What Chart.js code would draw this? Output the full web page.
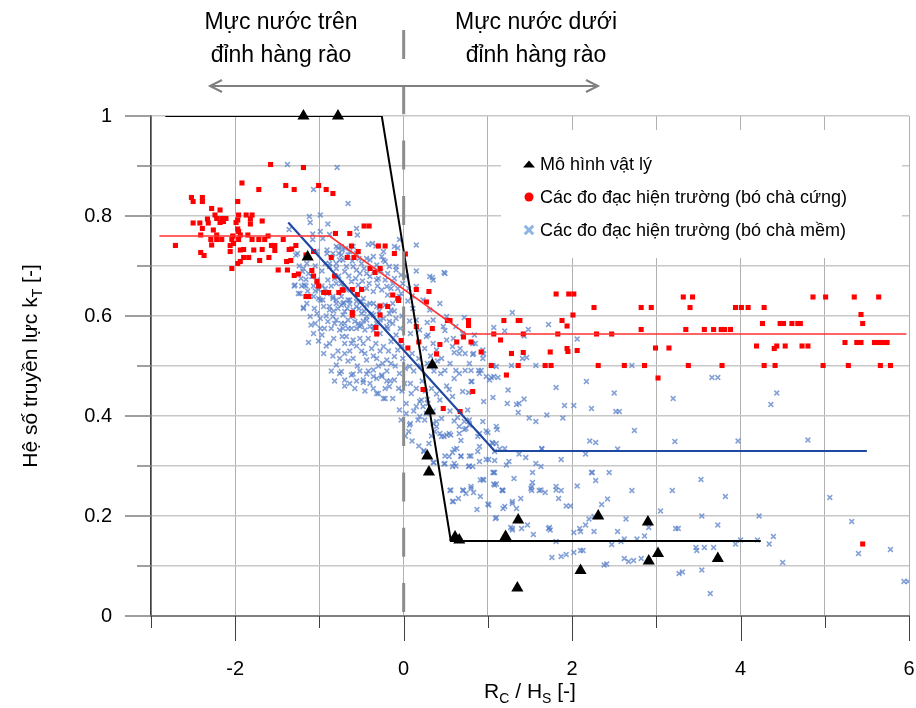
<!DOCTYPE html>
<html>
<head>
<meta charset="utf-8">
<script src="https://cdn.jsdelivr.net/npm/chart.js@4/dist/chart.umd.min.js"></script>
<style>
  html, body { margin: 0; padding: 0; background: #fff; }
  #wrap { width: 916px; height: 708px; }
</style>
</head>
<body>
<div id="wrap"><canvas id="kt" width="916" height="708"></canvas></div>
<script>
const FONT = '"Liberation Sans", Arial, sans-serif';

// axes
const xGridValues = [-3, -2, -1, 0, 1, 2, 3, 4, 5, 6];
const xTickLabels = [-2, 0, 2, 4, 6];
const yGridValues = [0, 0.1, 0.2, 0.3, 0.4, 0.5, 0.6, 0.7, 0.8, 0.9, 1];
const yTickLabels = [0, 0.2, 0.4, 0.6, 0.8, 1];

// fitted lines
const physModelLine = [[-2.83, 1], [-0.26, 1], [0.56, 0.15], [4.24, 0.15]];
const hardFitLine = [[-2.9, 0.76], [-0.88, 0.76], [0.74, 0.564], [5.97, 0.564]];
const softFitLine = [[-1.37, 0.787], [1.08, 0.33], [5.5, 0.33]];

// Mô hình vật lý
const physModel = [
  [-1.19, 1.0], [-0.78, 1.0], [-1.14, 0.718], [0.34, 0.502], [0.31, 0.41], [0.28, 0.32],
  [0.30, 0.288], [0.61, 0.158], [0.66, 0.152], [1.21, 0.159], [1.36, 0.192], [1.35, 0.056],
  [2.10, 0.091], [2.31, 0.20], [2.90, 0.188], [2.91, 0.11], [3.02, 0.125], [3.73, 0.115]
];

// bó chà cứng
const fieldHard = [
  [-1.58,0.903],[-1.19,0.897],[-1.92,0.866],[-1.40,0.861],[-1.72,0.853],[-1.30,0.853],[-1.01,0.861],[-0.92,0.853],
  [-0.84,0.845],[-2.52,0.837],[-2.50,0.829],[-2.39,0.837],[-2.39,0.829],[-1.97,0.829],[-2.28,0.815],[-2.18,0.812],
  [-2.24,0.802],[-1.96,0.802],[-1.87,0.802],[-1.80,0.802],[-2.22,0.795],[-2.16,0.795],[-2.11,0.795],[-1.82,0.794],
  [-1.97,0.792],[-1.68,0.79],[-2.50,0.786],[-2.42,0.786],[-2.33,0.794],[-2.32,0.786],[-2.18,0.787],[-2.14,0.789],
  [-1.99,0.787],[-1.82,0.784],[-2.39,0.775],[-2.26,0.772],[-1.97,0.774],[-1.96,0.769],[-2.41,0.762],[-2.22,0.762],
  [-2.03,0.76],[-1.94,0.762],[-1.85,0.762],[-1.61,0.76],[-2.29,0.753],[-2.22,0.753],[-2.16,0.753],[-2.04,0.753],
  [-1.96,0.753],[-1.80,0.753],[-1.72,0.753],[-1.65,0.753],[-1.43,0.753],[-2.71,0.741],[-2.28,0.742],[-2.06,0.741],
  [-2.02,0.745],[-1.57,0.741],[-1.53,0.741],[-1.28,0.741],[-1.33,0.734],[-2.41,0.727],[-2.06,0.729],[-1.94,0.732],
  [-1.90,0.733],[-1.78,0.732],[-1.68,0.733],[-1.53,0.731],[-1.36,0.733],[-2.37,0.721],[-1.90,0.717],[-1.84,0.717],
  [-1.71,0.711],[-1.60,0.717],[-1.39,0.709],[-2.04,0.695],[-1.97,0.705],[-1.94,0.709],[-1.49,0.692],[-1.38,0.692],
  [-1.30,0.681],[-1.25,0.684],[-1.09,0.691],[-0.81,0.765],[-1.07,0.729],[-0.86,0.717],
  [-1.07,0.68],[-1.03,0.669],[-1.01,0.66],[-0.95,0.647],[-0.89,0.647],[-1.16,0.639],[-1.13,0.639],[-0.77,0.647],
  [-0.72,0.652],[-0.82,0.68],[-0.67,0.717],
  [-0.47,0.78],[-0.41,0.78],[-0.64,0.765],[-0.62,0.74],[-0.30,0.74],[-0.22,0.74],[-0.54,0.729],[-1.16,0.722],
  [-0.11,0.725],[0.02,0.724],[-0.59,0.717],[-1.34,0.711],[-0.40,0.695],[-0.28,0.695],[-0.34,0.687],[0.15,0.653],
  [0.30,0.649],[-0.73,0.652],[-0.61,0.653],[-0.50,0.653],[-0.55,0.643],[-0.13,0.642],[-0.07,0.635],[-0.28,0.62],
  [-0.19,0.619],[0.27,0.628],[-0.61,0.607],[-0.61,0.602],[-0.28,0.602],[0.15,0.579],[0.34,0.575],[-0.33,0.577],
  [0.52,0.591],[-0.06,0.631],[0.55,0.591],[0.77,0.591],[0.77,0.581],[1.19,0.591],[1.36,0.591],[-0.32,0.564],
  [0.71,0.558],[0.63,0.548],[0.80,0.548],[1.07,0.564],[1.15,0.552],[-0.03,0.551],[0.43,0.543],[0.05,0.536],
  [0.18,0.548],[0.92,0.528],[1.28,0.525],[0.39,0.524],[1.04,0.501],[1.22,0.482],[0.23,0.453],[0.82,0.449],
  [0.47,0.415],[0.67,0.409],[1.38,0.591],[1.42,0.564],[1.42,0.527],[1.36,0.501],
  [1.81,0.644],[1.96,0.644],[2.02,0.644],[2.01,0.602],[1.88,0.591],[1.94,0.58],[1.83,0.564],[1.94,0.535],
  [1.95,0.529],[2.06,0.531],[1.74,0.528],[1.68,0.501],[1.75,0.501],[2.26,0.617],[2.29,0.564],[2.47,0.564],
  [2.31,0.501],[2.62,0.501],[2.82,0.617],[2.94,0.617],[2.82,0.573],[2.86,0.501],[2.99,0.536],[3.15,0.536],
  [3.02,0.476],[3.32,0.638],[3.43,0.638],[3.40,0.617],[3.35,0.573],[3.38,0.501],[3.57,0.573],[3.68,0.573],
  [3.77,0.573],[3.81,0.573],[3.88,0.573],[3.78,0.501],[3.94,0.617],[4.01,0.617],[4.09,0.617],[4.28,0.617],
  [4.26,0.585],[4.19,0.54],[4.40,0.535],[4.43,0.54],[4.53,0.54],[4.28,0.501],[4.41,0.501],[4.47,0.585],
  [4.51,0.585],[4.61,0.585],[4.68,0.585],[4.71,0.585],[4.73,0.54],[4.80,0.54],[4.86,0.638],[5.01,0.638],
  [4.98,0.501],[5.24,0.547],[5.35,0.638],[5.43,0.603],[5.45,0.585],[5.38,0.547],[5.43,0.547],[5.28,0.501],
  [5.64,0.638],[5.59,0.547],[5.63,0.547],[5.67,0.547],[5.71,0.547],[5.74,0.547],[5.66,0.501],[5.78,0.501],
  [5.45,0.144]
];

// bó chà mềm
const fieldSoft = [
  [-1.38,0.903],[-0.79,0.897],[-1.07,0.853],[-0.66,0.825],[-1.12,0.799],[-0.99,0.802],[-1.11,0.787],[-0.90,0.784],
  [-1.36,0.773],[-1.08,0.764],[-0.99,0.769],[-1.08,0.753],[-0.96,0.755],[-0.56,0.775],[-0.55,0.762],[-0.88,0.763],
  [-0.42,0.743],[-0.33,0.74],[-0.78,0.736],[-0.73,0.732],[-0.07,0.736],[-0.05,0.753],[-1.03,0.729],[-0.91,0.725],
  [-0.44,0.715],[-0.26,0.719],[-1.26,0.725],[-1.28,0.722],[0.15,0.69],[0.48,0.687],[0.34,0.677],[-1.19,0.695],
  [-1.20,0.689],[-1.09,0.679],[-1.03,0.672],[-1.07,0.66],[-1.30,0.66],[-1.21,0.66],[-1.16,0.66],[-1.25,0.645],
  [-1.19,0.617],[-1.10,0.582],
  [1.29,0.607],[0.28,0.587],[0.49,0.571],[0.29,0.562],[0.85,0.545],[0.95,0.524],[0.82,0.523],[0.73,0.525],
  [0.60,0.527],[0.67,0.535],[0.45,0.515],[0.18,0.515],[0.07,0.499],[0.98,0.479],[1.07,0.479],[0.89,0.491],
  [0.92,0.491],[0.73,0.491],[0.80,0.491],[0.62,0.491],[0.49,0.491],[1.24,0.452],[1.34,0.423],[1.23,0.425],
  [1.06,0.437],[0.95,0.429],[0.81,0.469],[0.70,0.449],[0.77,0.447],[0.51,0.46],[0.54,0.453],[0.58,0.439],
  [0.39,0.444],[0.43,0.432],[0.64,0.397],[0.72,0.389],[0.74,0.375],[0.66,0.365],[0.94,0.389],[1.37,0.425],
  [0.48,0.359],[0.37,0.369],[0.39,0.379],[0.08,0.385],[0.06,0.369],[0.23,0.419],[0.19,0.429],[0.28,0.433],
  [-0.71,0.627],[-0.64,0.624],[-0.56,0.619],[-0.50,0.629],[-0.44,0.622],[-0.36,0.625],[-0.38,0.605],[-0.72,0.602],
  [-0.74,0.585],[-0.66,0.575],[-0.54,0.585],[-0.46,0.572],[-0.36,0.579],[-0.28,0.565],[-0.19,0.575],[-0.09,0.562],
  [-0.73,0.559],[-0.60,0.552],[-0.48,0.545],[-0.38,0.535],[-0.24,0.539],[-0.15,0.549],[-0.07,0.532],[-0.70,0.525],
  [-0.60,0.515],[-0.44,0.512],[-0.32,0.515],[-0.20,0.512],[-0.11,0.519],[-0.01,0.515],[-0.74,0.489],[-0.62,0.482],
  [-0.48,0.472],[-0.36,0.492],[-0.26,0.479],[-0.17,0.459],[-0.11,0.472],[-0.05,0.485],[0.01,0.465],[-0.58,0.455],
  [-0.30,0.445],[-0.24,0.435],[-0.13,0.435],[0.03,0.425],[0.09,0.445],[0.15,0.455],[-0.05,0.412],[0.03,0.405],
  [0.15,0.419],[0.21,0.432],[0.07,0.382],[0.17,0.392],[0.29,0.425],
  [-1.19,0.615],[-1.13,0.547],[-1.07,0.565],[-0.97,0.562],[-0.88,0.545],[-0.80,0.502],[-0.76,0.485],[-0.70,0.472],
  [-0.60,0.484],[-0.48,0.467],[-0.44,0.484],[-0.36,0.479],[-0.26,0.482],[-0.22,0.455],[-0.32,0.445],[-0.22,0.435],
  [-0.03,0.392],[0.19,0.399],[0.25,0.392],[0.39,0.389],[0.43,0.365],[0.54,0.365],[0.66,0.379],[0.78,0.392],
  [0.90,0.365],[0.98,0.37],[1.10,0.379],
  [-1.29,0.662],[-1.23,0.645],[-1.07,0.639],[-0.99,0.632],[-0.88,0.619],[-0.80,0.632],[-0.72,0.625],[-0.84,0.599],
  [-0.66,0.592],[-0.60,0.599],[-0.76,0.572],[-0.68,0.559],[-0.52,0.579],[-0.44,0.592],[-0.36,0.572],[-0.28,0.592],
  [-0.20,0.579],[-0.17,0.605],[-0.13,0.625],[-0.05,0.639],[-0.20,0.659],[-0.32,0.672],[-0.44,0.685],[-0.56,0.692],
  [-0.68,0.699],[-0.76,0.712],[-0.84,0.725],[-0.91,0.732],[-0.36,0.719],[-0.24,0.712],[-0.09,0.699],[0.03,0.679],
  [0.15,0.659],[0.23,0.632],[0.31,0.612],[0.35,0.592],[0.15,0.592],[0.19,0.572],[0.27,0.559],[0.35,0.545],
  [0.39,0.532],[0.51,0.552],[0.58,0.539],[0.66,0.525],[0.78,0.505],[0.90,0.485],[1.02,0.472],[1.10,0.499],
  [0.94,0.532],[0.82,0.545],[0.70,0.565],[0.62,0.579],[0.47,0.579],[0.51,0.599],[0.43,0.625],[0.35,0.672],
  [0.31,0.679],[0.49,0.685],[0.15,0.742],[-0.11,0.739],[-0.24,0.729],[-0.37,0.745],[-0.74,0.739],[-0.60,0.739],
  [-1.18,0.662],[-1.16,0.673],[-1.11,0.639],[-1.01,0.635],[-0.96,0.632],[-0.84,0.639],[-0.80,0.625],[-0.74,0.622],
  [-0.66,0.632],[-0.68,0.652],[-0.74,0.665],[-0.82,0.675],[-0.88,0.699],[-0.80,0.705],[-0.72,0.712],[-0.66,0.722],
  [-0.80,0.739],[-0.74,0.722],[-0.64,0.729],[-0.56,0.725],[-0.50,0.705],[-0.40,0.712],[-0.32,0.702],[-0.22,0.709],
  [-0.17,0.699],[-0.09,0.692],[-0.03,0.682],[-0.88,0.705],[-0.80,0.695],[-0.70,0.689],[-0.60,0.699],[-0.52,0.685],
  [-0.40,0.679],[-0.30,0.675],[-0.22,0.672],[-0.13,0.665],[-0.07,0.655],[-0.90,0.672],[-0.80,0.665],[-0.72,0.659],
  [-0.62,0.669],[-0.54,0.662],[-0.44,0.655],[-0.36,0.649],[-0.26,0.652],[-0.19,0.642],[-0.91,0.645],[-0.84,0.635],
  [-0.74,0.639],[-0.64,0.632],[-0.56,0.629],[-0.48,0.635],[-0.40,0.625],[-0.32,0.619],[-0.22,0.622],[-0.15,0.612],
  [-0.95,0.619],[-0.88,0.612],[-0.78,0.615],[-0.70,0.609],[-0.60,0.612],[-0.50,0.605],[-0.44,0.599],[-0.36,0.602],
  [-0.24,0.595],[-0.17,0.589],[-0.09,0.595],[-0.99,0.595],[-0.90,0.589],[-0.80,0.592],[-0.70,0.585],[-0.58,0.589],
  [-0.50,0.582],[-0.40,0.579],[-0.99,0.575],[-0.86,0.575],[-0.72,0.575],[-0.56,0.575],[-1.03,0.605],[-1.11,0.599],
  [-1.01,0.653],
  [-0.84,0.52],[-0.78,0.53],[-0.66,0.51],[-0.55,0.50],[-0.50,0.53],[-0.42,0.49],[-0.30,0.50],[-0.20,0.49],
  [-0.92,0.54],[-0.62,0.545],[-0.52,0.555],[-0.28,0.53],[-0.10,0.50],[-0.86,0.49],[-0.70,0.46],[-0.46,0.45],
  [-0.40,0.465],[-0.56,0.47],[-0.36,0.455],[-0.16,0.47],[-0.06,0.455],
  [-1.24,0.70],[-1.15,0.705],[-1.05,0.70],[-0.97,0.69],[-1.13,0.685],[-0.93,0.705],[-0.85,0.715],[-0.77,0.725],
  [-0.69,0.735],[-0.61,0.71],[-0.53,0.715],[-0.47,0.695],[-0.35,0.69],[-0.27,0.69],[-0.19,0.685],[-0.11,0.675],
  [-0.01,0.665],[0.06,0.655],[0.10,0.64],[-1.22,0.675],[-1.14,0.65],[-1.05,0.65],[-0.97,0.66],[-0.93,0.655],
  [-0.86,0.66],[-0.77,0.68],[-0.65,0.68],[-0.57,0.675],[-0.49,0.67],[-0.41,0.665],[-0.31,0.66],[-0.15,0.655],
  [-0.03,0.645],[0.05,0.63],[0.11,0.615],[-1.15,0.625],[-1.06,0.615],[-0.92,0.60],[-0.83,0.61],[-0.67,0.615],
  [-0.53,0.615],[-0.47,0.61],[-0.29,0.61],[-0.11,0.61],[-0.02,0.60],[0.07,0.59],[-1.05,0.585],[-0.94,0.575],
  [-0.82,0.585],[-0.62,0.575],[-0.48,0.59],[-0.32,0.585],[-0.13,0.585],[-0.04,0.575],[0.08,0.565],[-1.01,0.55],
  [-0.83,0.555],[-0.70,0.545],[-0.56,0.54],[-0.42,0.555],[-0.33,0.545],[-0.18,0.53],[-0.02,0.54],[0.10,0.525],
  [-0.95,0.525],[-0.76,0.515],[-0.64,0.53],[-0.46,0.525],[-0.36,0.52],[-0.25,0.505],[-0.15,0.505],[0.02,0.495],
  [0.12,0.49],[-0.82,0.47],[-0.64,0.465],[-0.52,0.49],[-0.32,0.475],[-0.20,0.47],[-0.02,0.45],[0.08,0.465],
  [0.22,0.47],[0.26,0.45],[0.33,0.455],[0.20,0.50],[0.28,0.505],[0.36,0.49],[0.25,0.535],[0.32,0.52],
  [0.40,0.51],[0.44,0.485],[0.55,0.505],[0.60,0.475],[0.66,0.485],[0.12,0.41],[0.27,0.405],[0.35,0.41],
  [0.45,0.395],[0.55,0.41],[0.60,0.39],
  [0.35,0.385],[0.33,0.36],[0.45,0.359],[0.51,0.362],[0.56,0.362],[0.72,0.373],[0.78,0.382],[0.88,0.359],
  [1.00,0.367],[0.68,0.351],[0.60,0.333],[0.63,0.335],[0.58,0.327],[0.68,0.32],[0.49,0.32],[0.80,0.32],
  [0.88,0.329],[0.90,0.339],[0.24,0.329],[0.36,0.307],[0.49,0.305],[0.60,0.305],[0.62,0.30],[0.77,0.299],
  [0.82,0.299],[0.90,0.309],[0.98,0.313],[1.01,0.313],[1.08,0.311],[1.08,0.329],[1.20,0.335],[1.10,0.345],
  [1.05,0.347],[1.25,0.309],[1.22,0.302],[1.37,0.324],[1.45,0.317],[1.57,0.305],[1.63,0.299],[1.87,0.313],
  [1.64,0.335],[2.16,0.324],[2.28,0.347],[2.21,0.35],[1.07,0.287],[1.53,0.287],[2.23,0.287],[2.44,0.287],
  [2.28,0.271],[1.53,0.267],[1.52,0.259],[1.31,0.275],[0.91,0.272],[1.10,0.264],[1.07,0.264],[1.17,0.251],
  [1.18,0.251],[0.55,0.251],[0.71,0.251],[0.80,0.259],[0.83,0.247],[0.91,0.239],[0.59,0.229],[0.65,0.235],
  [0.87,0.213],[1.01,0.222],[1.20,0.219],[1.29,0.225],[1.34,0.215],[1.39,0.235],[1.51,0.255],[1.61,0.251],
  [1.68,0.247],[1.81,0.252],[1.84,0.235],[1.87,0.251],[2.06,0.26],[1.09,0.195],[1.93,0.22],[1.98,0.22],
  [2.42,0.234],[2.35,0.223],[1.47,0.182],[1.40,0.175],[1.29,0.175],[1.29,0.172],[1.54,0.163],[1.72,0.175],
  [1.74,0.172],[1.81,0.149],[2.02,0.167],[2.09,0.175],[2.16,0.182],[2.20,0.194],[2.26,0.199],[1.76,0.117],
  [1.87,0.119],[1.93,0.123],[2.02,0.127],[2.10,0.131],[2.13,0.131],[2.38,0.102],[2.41,0.104],[2.47,0.143],
  [1.06,0.345],[1.14,0.334],[1.64,0.334],[2.54,0.334],[3.22,0.349],[3.97,0.35],[4.80,0.352],[1.63,0.252],
  [1.52,0.251],[1.17,0.252],[1.06,0.287],[0.95,0.272],[1.29,0.229],[1.18,0.215],[1.27,0.177],[1.73,0.177],
  [2.10,0.169],[2.26,0.169],[2.54,0.169],[2.64,0.194],[2.86,0.16],[2.77,0.154],[2.62,0.154],[2.58,0.149],
  [2.62,0.115],[2.67,0.109],[2.73,0.111],[2.82,0.115],[2.91,0.177],[3.05,0.21],[3.19,0.251],[3.23,0.175],
  [3.26,0.175],[3.27,0.085],[3.31,0.088],[3.47,0.137],[3.48,0.131],[3.57,0.137],[3.68,0.137],[3.54,0.20],
  [3.54,0.092],[3.64,0.045],[3.73,0.182],[3.82,0.239],[3.94,0.144],[4.00,0.152],[4.20,0.152],[4.22,0.20],
  [4.34,0.144],[4.39,0.159],[4.50,0.107],[5.06,0.237],[5.32,0.189],[5.40,0.125],[5.78,0.133],[5.94,0.069],
  [5.99,0.069],[3.53,0.273],[1.81,0.259],[2.24,0.287],[2.71,0.251],
  [1.72,0.583],[1.48,0.573],[1.43,0.56],[2.06,0.554],[1.20,0.57],[1.07,0.577],[0.72,0.597],[0.84,0.562],
  [0.59,0.555],[0.83,0.525],[0.94,0.515],[0.80,0.469],[0.76,0.412],[1.06,0.501],[1.28,0.501],[1.57,0.501],
  [2.71,0.501],[1.04,0.477],[1.12,0.477],[1.41,0.515],[1.46,0.517],[1.43,0.434],[1.36,0.407],[1.49,0.396],
  [1.57,0.389],[1.70,0.402],[1.89,0.396],[1.91,0.421],[2.02,0.421],[1.81,0.457],[2.17,0.469],[2.23,0.415],
  [2.50,0.446],[2.52,0.409],[2.56,0.409],[2.74,0.371],[3.20,0.435],[3.66,0.477],[3.73,0.477],[4.36,0.423],
  [4.43,0.446],[1.11,0.373],
  [0.24,0.331],[0.35,0.307],[0.48,0.304],[0.54,0.319],[0.68,0.319],[0.78,0.32],[0.58,0.299],[0.78,0.30],
  [1.08,0.287],[0.94,0.273],[0.80,0.255],[0.74,0.245],[0.56,0.252],[0.70,0.252],[0.58,0.229],[1.00,0.224],
  [1.10,0.197],[1.08,0.262],[0.02,0.36],[0.10,0.35],[0.18,0.34],[0.30,0.345]
];

const toPts = arr => arr.map(([x, y]) => ({ x, y }));

function drawRich(ctx, parts, cx, baseY) {
  let total = 0;
  parts.forEach(p => {
    ctx.font = p.size + 'px ' + FONT;
    p.w = ctx.measureText(p.t).width;
    total += p.w;
  });
  let x = cx - total / 2;
  ctx.textAlign = 'left';
  ctx.textBaseline = 'alphabetic';
  parts.forEach(p => {
    ctx.font = p.size + 'px ' + FONT;
    ctx.fillText(p.t, x, baseY + (p.dy || 0));
    x += p.w;
  });
}

const decorPlugin = {
  id: 'decor',
  afterDatasetsDraw(chart) {
    const { ctx, scales: { x, y } } = chart;
    const x0 = x.getPixelForValue(0);

    ctx.save();
    // dashed crest line
    ctx.strokeStyle = '#8c8c8c';
    ctx.lineWidth = 3;
    ctx.setLineDash([29, 26.3]);
    ctx.beginPath();
    ctx.moveTo(x0, 30);
    ctx.lineTo(x0, y.bottom);
    ctx.stroke();
    ctx.setLineDash([]);

    // legend box
    ctx.fillStyle = '#fff';
    ctx.fillRect(501, 130, 401, 128);
    let ly = 164;
    chart.data.datasets.filter(d => d.label).forEach(d => {
      const m = d.legendMarker;
      ctx.fillStyle = m.color;
      ctx.strokeStyle = m.color;
      ctx.lineWidth = m.lineWidth;
      if (m.style === 'triangle') {
        // flat legend triangle
        ctx.beginPath();
        ctx.moveTo(523, ly + 3.5);
        ctx.lineTo(529, ly - 3.5);
        ctx.lineTo(535, ly + 3.5);
        ctx.closePath();
        ctx.fill();
      } else {
        Chart.helpers.drawPoint(ctx, { pointStyle: m.style, radius: m.radius, rotation: 0, borderWidth: m.lineWidth }, 529, ly);
      }
      ctx.fillStyle = '#000';
      ctx.font = '18px ' + FONT;
      ctx.textAlign = 'left';
      ctx.textBaseline = 'middle';
      ctx.fillText(d.label, 540, ly + 1);
      ly += 33;
    });
    ctx.restore();
  },
  afterDraw(chart) {
    const { ctx, scales: { x, y } } = chart;
    ctx.save();

    // tick marks
    ctx.strokeStyle = '#404040';
    ctx.lineWidth = 1;
    xGridValues.forEach(v => {
      const px = Math.round(x.getPixelForValue(v)) + 0.5;
      const len = xTickLabels.includes(v) ? 25 : 12;
      ctx.beginPath();
      ctx.moveTo(px, y.bottom);
      ctx.lineTo(px, y.bottom + len);
      ctx.stroke();
    });
    ctx.strokeStyle = '#7f7f7f';
    ctx.lineWidth = 1.5;
    yGridValues.forEach(v => {
      const py = y.getPixelForValue(v);
      const major = yTickLabels.some(t => Math.abs(t - v) < 1e-6);
      const len = major ? 26 : 14;
      ctx.beginPath();
      ctx.moveTo(x.left - len, py);
      ctx.lineTo(x.left, py);
      ctx.stroke();
    });

    // arrow between the two zones
    ctx.strokeStyle = '#808080';
    ctx.lineWidth = 2;
    ctx.beginPath();
    ctx.moveTo(210, 86); ctx.lineTo(598, 86);
    ctx.moveTo(222, 80); ctx.lineTo(210, 86); ctx.lineTo(222, 92);
    ctx.moveTo(586, 80); ctx.lineTo(598, 86); ctx.lineTo(586, 92);
    ctx.stroke();

    // zone labels
    ctx.fillStyle = '#000';
    ctx.font = '23px ' + FONT;
    ctx.textAlign = 'center';
    ctx.textBaseline = 'alphabetic';
    ctx.fillText('Mực nước trên', 281, 29);
    ctx.fillText('đỉnh hàng rào', 281, 62);
    ctx.fillText('Mực nước dưới', 536, 29);
    ctx.fillText('đỉnh hàng rào', 536, 62);

    // axis titles
    drawRich(ctx, [
      { t: 'R', size: 21 }, { t: 'C', size: 14, dy: 5 },
      { t: ' / H', size: 21 }, { t: 'S', size: 14, dy: 5 }, { t: ' [-]', size: 21 }
    ], (x.left + x.right) / 2, 698);

    ctx.translate(37, (y.top + y.bottom) / 2);
    ctx.rotate(-Math.PI / 2);
    drawRich(ctx, [
      { t: 'Hệ số truyền lực k', size: 21 }, { t: 'T', size: 14, dy: 5 }, { t: ' [-]', size: 21 }
    ], 0, 0);
    ctx.restore();
  }
};

new Chart(document.getElementById('kt'), {
  type: 'scatter',
  data: {
    datasets: [
      {
        label: 'Mô hình vật lý',
        data: toPts(physModel),
        pointStyle: 'triangle',
        pointRadius: 7,
        backgroundColor: '#000',
        borderColor: '#000',
        pointBorderWidth: 0,
        clip: false,
        legendMarker: { style: 'triangle', radius: 5, color: '#000', lineWidth: 0 }
      },
      {
        data: toPts(physModelLine),
        showLine: true,
        pointRadius: 0,
        borderColor: '#000',
        borderWidth: 2
      },
      {
        data: toPts(hardFitLine),
        showLine: true,
        pointRadius: 0,
        borderColor: '#ff3030',
        borderWidth: 1.6
      },
      {
        data: toPts(softFitLine),
        showLine: true,
        pointRadius: 0,
        borderColor: '#1f48a0',
        borderWidth: 2.2
      },
      {
        label: 'Các đo đạc hiện trường (bó chà cứng)',
        data: toPts(fieldHard),
        pointStyle: 'rect',
        pointRadius: 3.6,
        backgroundColor: '#ff0000',
        borderColor: '#ff0000',
        pointBorderWidth: 0,
        legendMarker: { style: 'circle', radius: 4.5, color: '#ff0000', lineWidth: 0 }
      },
      {
        label: 'Các đo đạc hiện trường (bó chà mềm)',
        data: toPts(fieldSoft),
        pointStyle: 'crossRot',
        pointRadius: 3.4,
        backgroundColor: 'rgba(85,125,200,0.72)',
        borderColor: 'rgba(85,125,200,0.72)',
        pointBorderWidth: 1.5,
        legendMarker: { style: 'crossRot', radius: 6, color: '#8db4e2', lineWidth: 3 }
      }
    ]
  },
  options: {
    responsive: false,
    animation: false,
    devicePixelRatio: 1,
    layout: { padding: { top: 116, right: 5, left: 0, bottom: 0 } },
    plugins: {
      legend: { display: false },
      tooltip: { enabled: false }
    },
    scales: {
      x: {
        type: 'linear',
        min: -3,
        max: 6,
        afterFit(s) { s.height = 92; s.paddingLeft = 0; s.paddingRight = 0; },
        afterBuildTicks(s) { s.ticks = xGridValues.map(v => ({ value: v })); },
        ticks: {
          autoSkip: false,
          maxRotation: 0,
          padding: 41,
          color: '#000',
          font: { family: FONT, size: 20 },
          callback: v => xTickLabels.includes(v) ? String(v) : ''
        },
        grid: { color: '#b0b0b0', lineWidth: 1, drawTicks: false },
        border: { color: '#808080', width: 2 }
      },
      y: {
        min: 0,
        max: 1,
        afterFit(s) { s.width = 151; s.paddingTop = 0; s.paddingBottom = 0; },
        afterBuildTicks(s) { s.ticks = yGridValues.map(v => ({ value: v })); },
        ticks: {
          autoSkip: false,
          padding: 39,
          color: '#000',
          font: { family: FONT, size: 20 },
          callback: v => yTickLabels.some(t => Math.abs(t - v) < 1e-6) ? String(Math.round(v * 10) / 10) : ''
        },
        grid: { color: '#c8c8c8', lineWidth: 1.5, drawTicks: false },
        border: { color: '#404040', width: 1.5 }
      }
    }
  },
  plugins: [decorPlugin]
});
</script>
</body>
</html>
